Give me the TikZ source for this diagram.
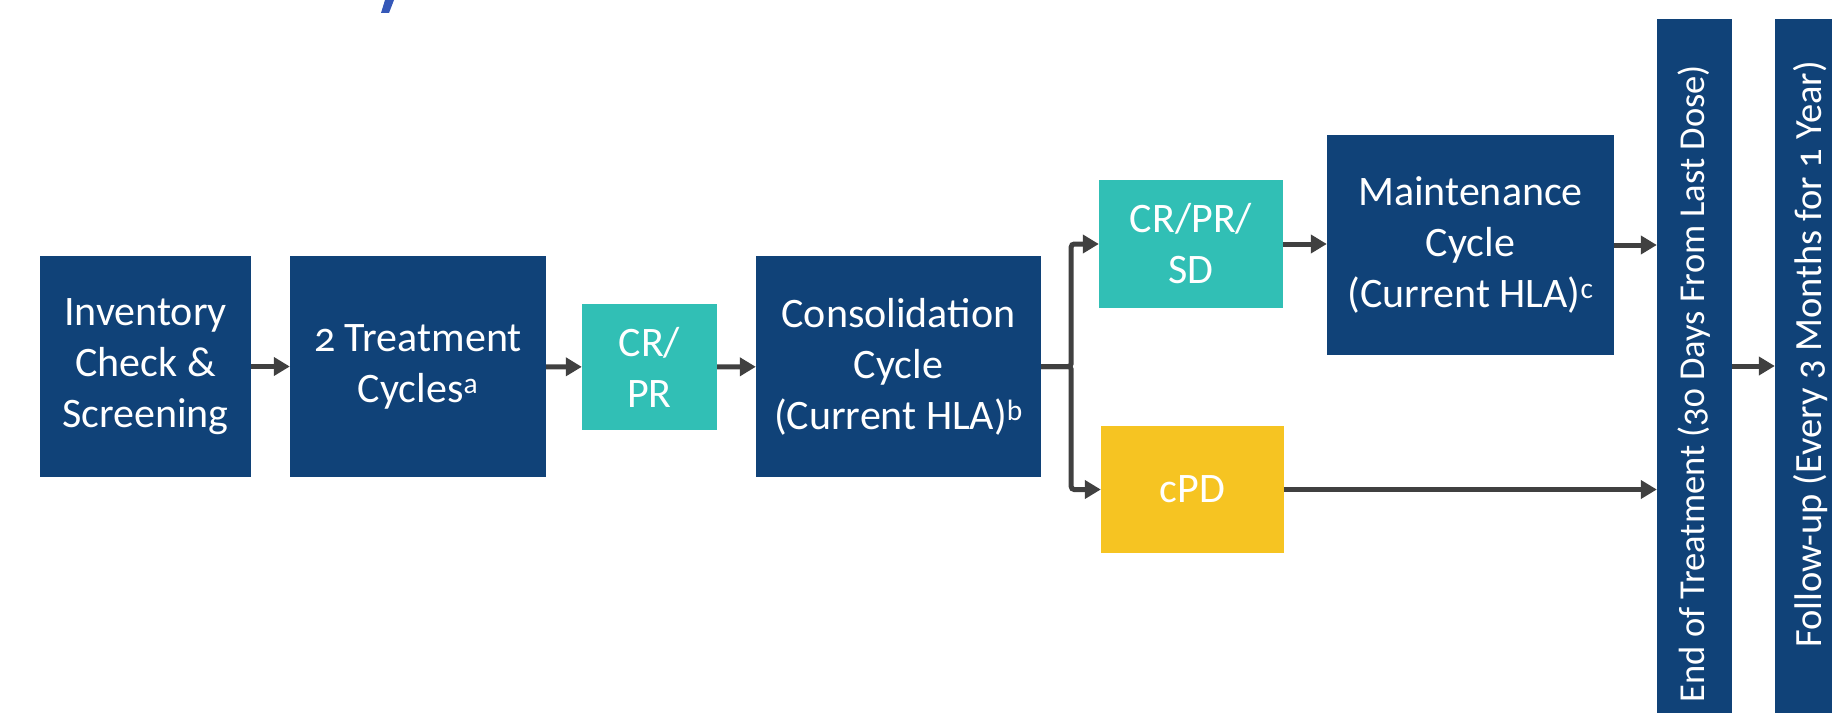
\documentclass[tikz,border=0pt]{standalone}
\usepackage{fontspec}
\setmainfont[Numbers=OldStyle]{Carlito}
\usetikzlibrary{arrows.meta}
\definecolor{navy}{HTML}{104278}
\definecolor{teal}{HTML}{31BFB5}
\definecolor{amber}{HTML}{F6C422}
\definecolor{linegray}{HTML}{404040}
\definecolor{titleblue}{HTML}{3558B8}
\tikzset{
  box/.style={inner sep=0pt, draw=none, align=center, text=white,
    font=\fontsize{42}{51}\selectfont},
  navybox/.style={box, fill=navy},
  tealbox/.style={box, fill=teal},
  amberbox/.style={box, fill=amber},
  vtext/.style={inner sep=0pt, text=white, rotate=90},
  flow/.style={draw=linegray, line width=5pt,
    -{Triangle[length=16pt,width=18pt]}},
}
\begin{document}
\begin{tikzpicture}[x=1pt, y=-1pt]
\useasboundingbox (0,0) rectangle (1832,717);
\clip (0,0) rectangle (1832,717);

% descender of the heading above the chart
\fill[titleblue] (385,0) -- (394,0) -- (389,13) -- (381,13) -- cycle;

% process boxes
\node[navybox, minimum width=211pt, minimum height=221pt] (inv) at (145.5,366.5)
  {Inventory\\Check \&\\Screening};
\node[navybox, minimum width=256pt, minimum height=221pt] (treat) at (418,366.5)
  {2 Treatment\\Cycles\textsuperscript{a}};
\node[tealbox, minimum width=135pt, minimum height=126pt] (crpr) at (649.5,367)
  {CR/\\PR};
\node[navybox, minimum width=285pt, minimum height=221pt] (cons) at (898.5,366.5)
  {Consolidation\\Cycle\\(Current HLA)\textsuperscript{b}};
\node[tealbox, minimum width=184pt, minimum height=128pt] (crsd) at (1191,244)
  {CR/PR/\\SD};
\node[amberbox, minimum width=183pt, minimum height=127pt] (cpd) at (1192.5,489.5)
  {cPD};
\node[navybox, minimum width=287pt, minimum height=220pt] (maint) at (1470.5,245)
  {Maintenance\\Cycle\\(Current HLA)\textsuperscript{c}};
\node[navybox, minimum width=75pt, minimum height=694pt] (endt) at (1694.5,366) {};
\node[vtext, font=\fontsize{36.5}{44}\selectfont] (endlbl) at (1694.5,383.5)
  {End of Treatment (30 Days From Last Dose)};
\node[navybox, minimum width=75pt, minimum height=694pt] (follow) at (1812.5,366) {};
\node[vtext, font=\fontsize{38.5}{46}\selectfont] (followlbl) at (1811,354.5)
  {Follow-up (Every 3 Months for 1 Year)};

% connectors
\draw[flow] (inv) -- (treat);
\draw[flow] (treat) -- (crpr);
\draw[flow] (crpr) -- (cons);
\coordinate (split) at ([xshift=30pt]cons.east);
\draw[flow, rounded corners=3pt] (cons.east) -- (split) |- (crsd.west);
\draw[flow, rounded corners=3pt] (cons.east) -- (split) |- (cpd.west);
\draw[flow] (crsd.east) -- (crsd.east -| maint.west);
\draw[flow] (maint.east) -- (maint.east -| endt.west);
\draw[flow] (cpd.east) -- (cpd.east -| endt.west);
\draw[flow] (endt.east) -- (follow.west);
\end{tikzpicture}
\end{document}
